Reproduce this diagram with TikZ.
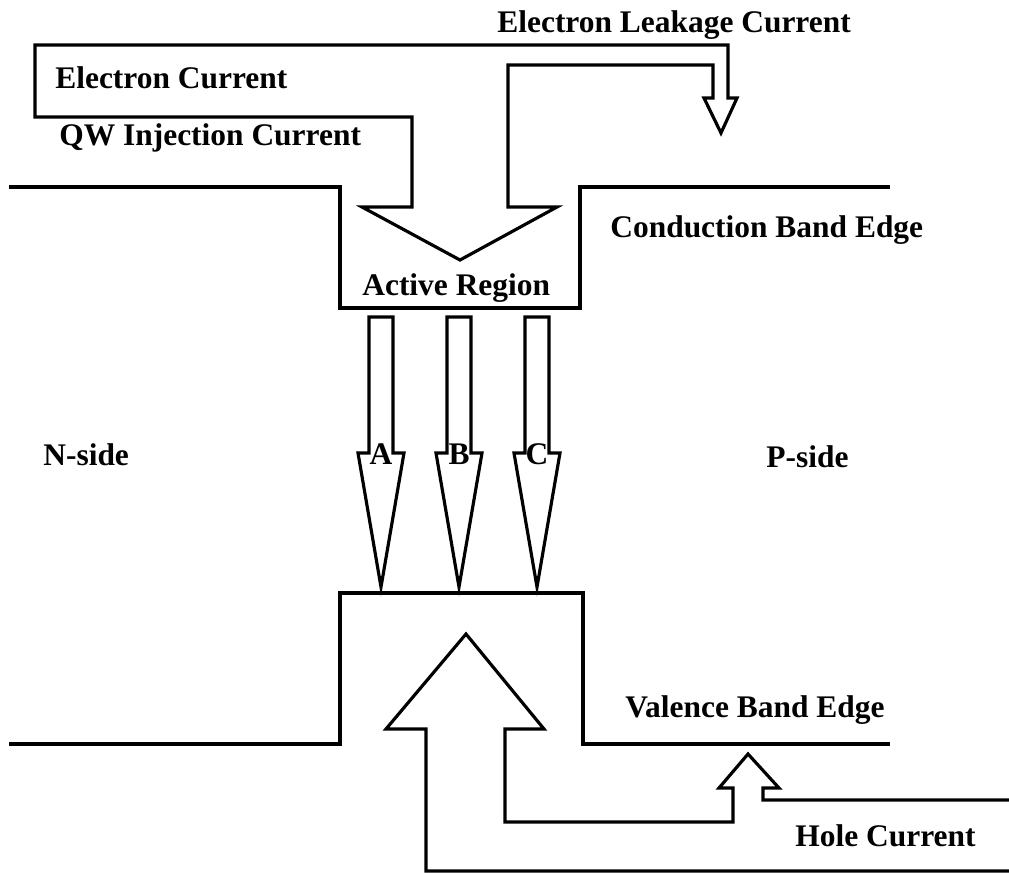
\documentclass[tikz,border=0pt]{standalone}
\usepackage{fontspec}
\setmainfont{Liberation Serif}
\tikzset{
  band/.style ={line width=1.8pt, line join=miter},
  flow/.style ={line width=1.8pt, line join=miter},
  lbl/.style  ={inner sep=0pt, anchor=base west, font=\fontsize{17.9}{20}\selectfont\bfseries},
  tag/.style  ={inner sep=0pt, anchor=base, font=\fontsize{17.9}{20}\selectfont\bfseries},
}

\begin{document}
\begin{tikzpicture}[x=0.02cm, y=-0.02cm]
  \useasboundingbox (0,0) rectangle (1009,873);
  \draw[band] (9,187) -- (340,187) -- (340,308) -- (580,308) -- (580,187) -- (890,187);
  \draw[band] (9,744) -- (340,744) -- (340,593) -- (583,593) -- (583,744) -- (890,744);
  \draw[flow] (35,45) -- (728,45) -- (728,98) -- (737,98) -- (721,133) -- (704,98) -- (713,98)
    -- (713,65) -- (508,65) -- (508,207) -- (557,207) -- (460,260) -- (362,207) -- (412,207)
    -- (412,117) -- (35,117) -- cycle;
  \draw[flow] (1009,800) -- (763,800) -- (763,788) -- (779,788) -- (748,754) -- (719,788)
    -- (733,788) -- (733,822) -- (505,822) -- (505,729) -- (544,729) -- (466,634) -- (386,729)
    -- (426,729) -- (426,871) -- (1009,871);
  \foreach \x/\n in {381/A, 459/B, 537/C} {
    \draw[flow] (\x-12,317) -- (\x-12,453) -- (\x-23,453) -- (\x,587) -- (\x+23,453)
      -- (\x+12,453) -- (\x+12,317) -- cycle;
    \node[tag] (lbl\n) at (\x,464) {\n};
  }
  \node[lbl] (eleak)  at (497,32)  {Electron Leakage Current};
  \node[lbl] (ecur)   at (55,88)   {Electron Current};
  \node[lbl] (qwinj)  at (59,145)  {QW Injection Current};
  \node[lbl] (cband)  at (610,237) {Conduction Band Edge};
  \node[lbl] (active) at (362,295) {Active Region};
  \node[lbl] (nside)  at (43,465)  {N-side};
  \node[lbl] (pside)  at (766,467) {P-side};
  \node[lbl] (vband)  at (625,717) {Valence Band Edge};
  \node[lbl] (hcur)   at (795,846) {Hole Current};
\end{tikzpicture}
\end{document}
